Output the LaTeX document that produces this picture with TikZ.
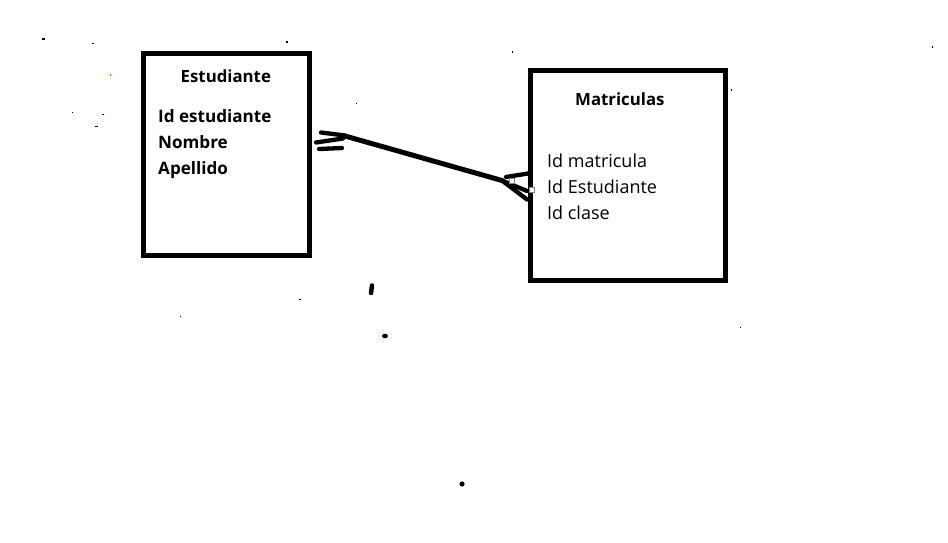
\documentclass[tikz,border=0pt]{standalone}
\usepackage{fontspec}
\setmainfont{Open Sans}
\begin{document}
\begin{tikzpicture}[x=1pt,y=-1pt,
  entbox/.style={draw=black,line width=5pt,fill=white,inner sep=0pt},
  ttl/.style={anchor=base west,inner sep=0pt,font=\fontsize{16.8}{18}\selectfont\bfseries},
  attrb/.style={anchor=base west,inner sep=0pt,font=\fontsize{17.1}{18}\selectfont\bfseries},
  attr/.style={anchor=base west,inner sep=0pt,font=\fontsize{18}{19}\selectfont},
  stroke/.style={line width=5pt,line cap=round,line join=round},
  thin/.style={line width=4.3pt,line cap=round},
  speck/.style={fill=black},
  handle/.style={draw=gray,fill=white,line width=0.8pt,minimum size=5pt,inner sep=0pt}]
\useasboundingbox (0,0) rectangle (948,543);
\fill[white] (0,0) rectangle (948,543);

% boxes
\node[entbox,minimum width=166pt,minimum height=202pt] (est) at (226.5,154.5) {};
\node[entbox,minimum width=195.5pt,minimum height=209.5pt] (mat) at (627.75,175.25) {};

% texts
\node[ttl] (t1) at (180.5,82) {Estudiante};
\node[attrb] (a1) at (158,122.5) {Id estudiante};
\node[attrb] (a2) at (158,148.5) {Nombre};
\node[attrb] (a3) at (158,174) {Apellido};

\node[ttl] (t2) at (575,105) {Matriculas};
\node[attr] (b1) at (547,167) {Id matricula};
\node[attr] (b2) at (547,193) {Id Estudiante};
\node[attr] (b3) at (547,219) {Id clase};

% connector
\coordinate (c1) at (345,136);
\coordinate (c2) at (502,180.5);
\coordinate (p1) at (528,173.5);
\coordinate (p2) at (527,191);
\coordinate (p3) at (527,199.5);
\coordinate (s1a) at (321,132.5);
\coordinate (s1b) at (345,135.5);
\coordinate (s2a) at (316,142.5);
\coordinate (s2b) at (343,138.5);
\coordinate (s3a) at (319,149);
\coordinate (s3b) at (342,148);
\draw[stroke] (c1) -- (c2);
\draw[thin] (s1a) -- (s1b);
\draw[thin] (s2a) -- (s2b);
\draw[thin] (s3a) -- (s3b);
\draw[thin] (c2) -- (p3);
\draw[thin] (c2) -- (p2);
\draw[thin] (506,177) -- (p1);
\node[handle] (h1) at (511.5,180.5) {};
\node[handle] (h2) at (532,190) {};

% marks
\draw[line width=4.5pt,line cap=round] (372,285.5) -- (371,293);
\fill (385,336) ellipse (3pt and 2.3pt);
\fill (462,484) circle (2.6pt);

% specks
\fill[speck] (42,38.5) rectangle (45,40);
\fill[speck] (92,43) rectangle (94,44.5);
\fill[orange!80!red] (110,74) rectangle (111,76);
\fill[speck] (72,112) rectangle (73,113);
\fill[blue!60!black] (102,113.5) rectangle (104,115);
\fill[speck] (95,126) rectangle (98,127);
\fill[speck] (286,41.5) rectangle (288,43);
\fill[speck] (356,102.5) rectangle (357,103.5);
\fill[speck] (299,298.5) rectangle (300.5,300);
\fill[speck] (179.5,315.5) rectangle (181,317);
\fill[speck] (740,326.5) rectangle (741,327.5);
\fill[speck] (731,89.5) rectangle (732,90.5);
\fill[speck] (511.5,51.5) rectangle (513,53);
\fill[speck] (931.5,46.5) rectangle (933,48);
\end{tikzpicture}
\end{document}
